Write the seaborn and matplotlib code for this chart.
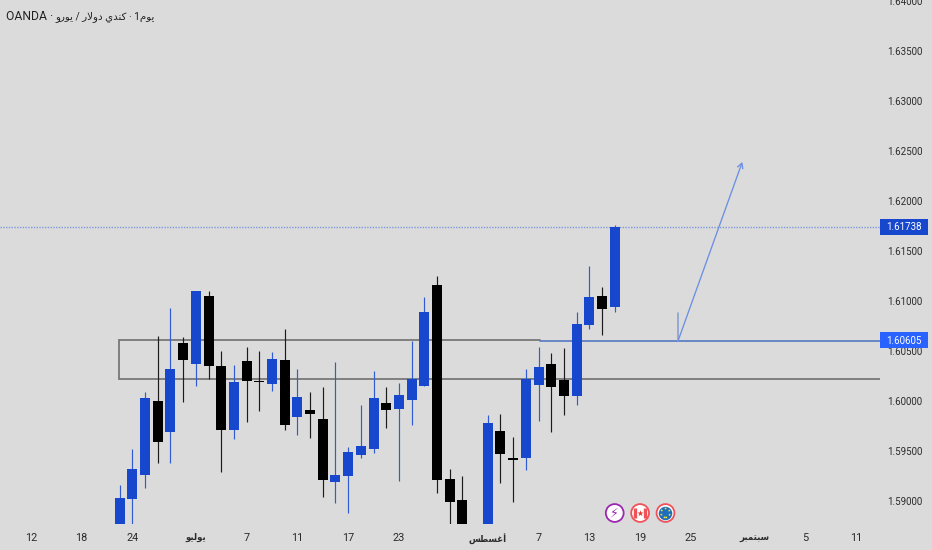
import numpy as np
import pandas as pd
import matplotlib
matplotlib.use("Agg")
import matplotlib.pyplot as plt
from matplotlib.patches import Rectangle
import seaborn as sns

# daily candles, nan = candle below the visible range
opens = [1.58750, 1.59020, 1.59263, 1.59997, 1.59687, 1.60583, 1.60367, 1.61047, 1.60350, 1.59707,
         1.60400, 1.60200, 1.60170, 1.60407, 1.59840, 1.59907, 1.59817, 1.59193, 1.59253, 1.59457,
         1.59517, 1.59977, 1.59923, 1.60010, 1.60150, 1.61157, 1.59223, 1.59010, np.nan, 1.58750,
         1.59697, 1.59427, 1.59433, 1.60163, 1.60373, 1.60210, 1.60050, 1.60763, 1.61050, 1.60940]
highs = [1.59160, 1.59520, 1.60090, 1.60653, 1.60933, 1.60643, 1.61100, 1.61100, 1.60500, 1.60360,
         1.60537, 1.60500, 1.60487, 1.60720, 1.60323, 1.60093, 1.60137, 1.60390, 1.59537, 1.59960,
         1.60300, 1.60140, 1.60183, 1.60597, 1.61043, 1.61250, 1.59323, 1.59250, np.nan, 1.59860,
         1.59870, 1.59637, 1.60317, 1.60543, 1.60477, 1.60530, 1.60887, 1.61350, 1.61137, 1.61757]
lows = [1.58750, 1.58750, 1.59130, 1.59383, 1.59383, 1.59993, 1.60153, 1.60220, 1.59293, 1.59617,
        1.59790, 1.59903, 1.60103, 1.59710, 1.59660, 1.59633, 1.59040, 1.58977, 1.58883, 1.59433,
        1.59477, 1.59733, 1.59200, 1.59760, 1.60150, 1.59077, 1.58750, 1.58750, np.nan, 1.58750,
        1.59183, 1.58993, 1.59310, 1.59800, 1.59693, 1.59857, 1.59963, 1.60717, 1.60660, 1.60890]
closes = [1.59027, 1.59320, 1.60027, 1.59590, 1.60323, 1.60407, 1.61100, 1.60350, 1.59707, 1.60187,
          1.60197, 1.60193, 1.60420, 1.59757, 1.60043, 1.59870, 1.59210, 1.59263, 1.59487, 1.59547,
          1.60030, 1.59913, 1.60063, 1.60220, 1.60887, 1.59210, 1.58990, 1.58750, np.nan, 1.59777,
          1.59467, 1.59407, 1.60220, 1.60340, 1.60140, 1.60050, 1.60773, 1.61037, 1.60923, 1.61738]

price_ticks = [1.59, 1.595, 1.60, 1.605, 1.61, 1.615, 1.62, 1.625, 1.63, 1.635, 1.64]
date_pos = [-7, -3, 1, 6, 10, 14, 18, 22, 29, 33, 37, 41, 45, 50, 54, 58]
# arabic is written in visual order with presentation forms, matplotlib does no shaping
date_labels = ["12", "18", "24", "\ufeee\ufef4\ufedf\ufeee\ufef3", "7", "11", "17", "23",
               "\ufeb2\ufec4\ufeb4\ufecf\ufe83", "7", "13", "19", "25",
               "\ufeae\ufe92\ufee4\ufe98\ufe92\ufeb3", "5", "11"]
title_left = "OANDA \u00b7"
title_right = ("\ufeed\ufead\ufeee\ufef3 / \ufead\ufefb\ufeed\ufea9 "
               "\ufef1\ufeaa\ufee8\ufedb \u00b7 1\ufee1\ufeee\ufef3")

last_price = 1.61738
line_price = 1.60605
zone_top = 1.60615
zone_bottom = 1.60220
zone_left = -0.02
zone_split = 33.1
arrow_x = [44.0, 44.0, 49.05]
arrow_y = [1.60880, 1.60605, 1.62390]

BG = "#dbdbdb"
BLUE = "#1747cc"
BLACK = "#000000"
GRAY = "#787878"

sns.set_style("white", {"axes.facecolor": BG, "figure.facecolor": BG})
plt.rcParams["font.family"] = ["Roboto", "DejaVu Sans"]

df = pd.DataFrame({"i": range(len(opens)), "o": opens, "h": highs, "l": lows, "c": closes}).dropna()
df["up"] = df["c"] >= df["o"]
df["bottom"] = df[["o", "c"]].min(axis=1)
df["body"] = (df["c"] - df["o"]).abs()
df["kind"] = np.where(df["up"], "up", "down")

fig = plt.figure(figsize=(9.32, 5.5), dpi=100)
ax = fig.add_axes([0, 26 / 550, 880 / 932, 524 / 550])
pal = {"up": BLUE, "down": BLACK}
wick_pal = {"up": "#2f5cd2", "down": "#1c1c1c"}

# zone box and level lines go under the candles
ax.plot([zone_left, zone_split], [zone_top, zone_top], color=GRAY, lw=1.3, zorder=1)
ax.plot([zone_left, 59.9], [zone_bottom, zone_bottom], color=GRAY, lw=1.3, zorder=1)
ax.plot([zone_left, zone_left], [zone_bottom, zone_top], color=GRAY, lw=1.3, zorder=1)
ax.plot([zone_split, 59.9], [line_price, line_price], color="#4a6fc0", lw=1.1, zorder=1.5)
ax.axhline(last_price, color="#8098dc", lw=1.0, ls=(0, (1, 1)), zorder=1)

wicks = df.melt(id_vars=["i", "kind"], value_vars=["h", "l"], value_name="price")
sns.lineplot(data=wicks, x="i", y="price", units="i", estimator=None, hue="kind", palette=wick_pal,
             lw=0.85, legend=False, ax=ax, zorder=2, solid_capstyle="butt")

for kind, part in df.groupby("kind"):
    sns.barplot(x=part["i"].values, y=part["body"].values, bottom=part["bottom"].values, native_scale=True,
                color=pal[kind], saturation=1, width=0.79, linewidth=0, ax=ax, zorder=3)

# forecast arrow
ax.plot(arrow_x[:2], arrow_y[:2], color="#8aa2cf", lw=1.2, zorder=4)
ax.annotate("", xy=(arrow_x[2], arrow_y[2]), xytext=(arrow_x[1], arrow_y[1]), zorder=4,
            arrowprops=dict(arrowstyle="->,head_length=0.35,head_width=0.2", color="#6a8fe4", lw=0.95,
                            shrinkA=0, shrinkB=0))

# event badges on the bottom
ax.scatter([39, 41, 43], [1.5888] * 3, s=165, facecolor="white",
           edgecolor=["#9c27b0", "#f0525a", "#f0525a"], lw=1.3, zorder=5)
ax.text(39, 1.5888, "\u26a1", color="#9c27b0", fontsize=9, ha="center", va="center", zorder=6,
        family="DejaVu Sans")
ax.scatter([40.62, 41.38], [1.5888] * 2, s=45, marker="|", color="#f0525a", lw=2.4, zorder=6)
ax.scatter([41], [1.5888], s=22, marker="*", color="#e53935", lw=0, zorder=6)
ax.scatter([43], [1.5888], s=95, color="#1f6fb8", lw=0, zorder=6)
ax.scatter([43], [1.5888], s=42, facecolor="none", edgecolor="#e9d44a", lw=1.2, ls=":", zorder=7)

ax.set_xlim(-9.43, 59.9)
ax.set_ylim(1.5877, 1.6401)
ax.yaxis.tick_right()
ax.set_yticks(price_ticks)
ax.set_yticklabels([f"{p:.5f}" for p in price_ticks])
ax.set_xticks(date_pos)
ax.set_xticklabels(date_labels)
ax.tick_params(axis="y", length=0, pad=5, labelsize=7.0, labelcolor="#2b2b2b")
ax.tick_params(axis="x", length=0, pad=6.5, labelsize=7.8, labelcolor="#2b2b2b")
for lab, txt in zip(ax.get_xticklabels(), date_labels):
    if not txt.isdigit():
        lab.set_fontweight("bold")
        lab.set_fontsize(6.2)
ax.set_xlabel("")
ax.set_ylabel("")
sns.despine(ax=ax, left=True, bottom=True, right=True, top=True)

# price tags on the scale
trans = ax.get_yaxis_transform()
for price, colour in [(last_price, "#1747cc"), (line_price, "#2962ff")]:
    ax.add_patch(Rectangle((1.0, price - 0.0008), 48 / 880, 0.0016, transform=trans, fc=colour, ec="none",
                           clip_on=False, zorder=7))
    ax.text(1.0075, price, f"{price:.5f}", transform=trans, color="white", fontsize=7.0, va="center",
            ha="left", zorder=8, clip_on=False)

fig.text(6.5 / 932, 1 - 17 / 550, title_left, fontsize=8.7, color="#222222", va="center", ha="left")
fig.text(55 / 932, 1 - 17 / 550, title_right, fontsize=7.4, color="#222222", va="center", ha="left")

fig.savefig("out.png", dpi=100, facecolor=BG)
